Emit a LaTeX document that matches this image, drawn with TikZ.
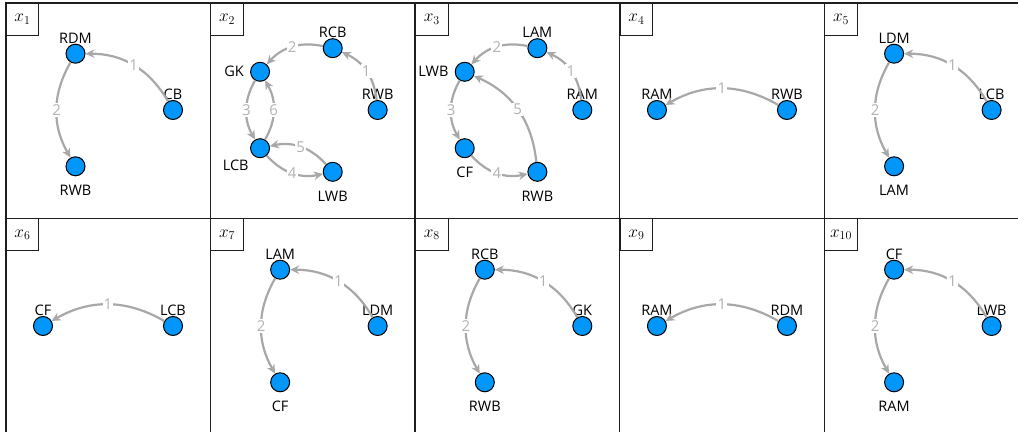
\documentclass[tikz,border=0pt]{standalone}
\usepackage{fontspec}
\newfontfamily\lblfont{Open Sans}
\usetikzlibrary{arrows.meta}
\definecolor{nodeblue}{RGB}{0,150,250}
\definecolor{edgegray}{RGB}{168,168,168}
\definecolor{numgray}{RGB}{178,178,178}
\definecolor{framecol}{RGB}{30,30,30}
\tikzset{
  player/.style={circle,draw=black,line width=1pt,fill=nodeblue,minimum size=19pt,inner sep=0pt,label distance=7.5pt},
  every label/.style={font=\lblfont\fontsize{14.5}{16}\selectfont,inner sep=0pt,text=black},
  lb/.style={label={[label distance=9pt]below:#1}},
  la/.style={label={above:#1}},
  ll/.style={label={[label distance=6pt]left:#1}},
  ed/.style={draw=edgegray,line width=2.2pt,-{Stealth[length=9pt,width=8.5pt]},bend right=30},
  el/.style={fill=white,text=numgray,inner sep=1.2pt,font=\lblfont\fontsize{15}{16}\selectfont},
  frameline/.style={draw=framecol,line width=1.6pt},
  paneltag/.style={draw=framecol,line width=1pt,anchor=north west,minimum width=32.5pt,minimum height=32pt,inner sep=0pt,font=\fontsize{16.5}{18}\selectfont}
}
\begin{document}
\begin{tikzpicture}[x=1pt,y=1pt]
\useasboundingbox (0,0) rectangle (1018,432);
\fill[white] (0,0) rectangle (1018,432);
% frame
\draw[frameline] (5.7,0) -- (5.7,429) -- (1018,429);
\foreach \xx in {210.35,415,619.65,824.3} \draw[frameline] (\xx,0) -- (\xx,429);
\draw[frameline] (5.7,213.7) -- (1018,213.7);
% tags
\node[paneltag] (t1) at (5.7,429) {$x_1$};
\node[paneltag] (t2) at (210.35,429) {$x_2$};
\node[paneltag] (t3) at (415,429) {$x_3$};
\node[paneltag] (t4) at (619.65,429) {$x_4$};
\node[paneltag] (t5) at (824.3,429) {$x_5$};
\node[paneltag] (t6) at (5.7,213.7) {$x_6$};
\node[paneltag] (t7) at (210.35,213.7) {$x_7$};
\node[paneltag] (t8) at (415,213.7) {$x_8$};
\node[paneltag] (t9) at (619.65,213.7) {$x_9$};
\node[paneltag] (t10) at (824.3,213.7) {$x_{10}$};
% panel 1
\begin{scope}[shift={(108,322)}]
 \node[player,la=CB] (p1cb) at (0:65) {};
 \node[player,la=RDM] (p1rdm) at (120:65) {};
 \node[player,lb=RWB] (p1rwb) at (240:65) {};
 \draw[ed] (p1cb) to node[el]{1} (p1rdm);
 \draw[ed] (p1rdm) to node[el]{2} (p1rwb);
\end{scope}
% panel 2
\begin{scope}[shift={(312.65,322)}]
 \node[player,la=RWB] (p2rwb) at (0:65) {};
 \node[player,la=RCB] (p2rcb) at (72:65) {};
 \node[player,ll=GK] (p2gk) at (144:65) {};
 \node[player,label={[label distance=6pt]below left:LCB}] (p2lcb) at (216:65) {};
 \node[player,lb=LWB] (p2lwb) at (288:65) {};
 \draw[ed] (p2rwb) to node[el]{1} (p2rcb);
 \draw[ed] (p2rcb) to node[el]{2} (p2gk);
 \draw[ed] (p2gk) to node[el]{3} (p2lcb);
 \draw[ed] (p2lcb) to node[el]{4} (p2lwb);
 \draw[ed] (p2lwb) to node[el]{5} (p2lcb);
 \draw[ed] (p2lcb) to node[el]{6} (p2gk);
\end{scope}
% panel 3
\begin{scope}[shift={(517.3,322)}]
 \node[player,la=RAM] (p3ram) at (0:65) {};
 \node[player,la=LAM] (p3lam) at (72:65) {};
 \node[player,ll=LWB] (p3lwb) at (144:65) {};
 \node[player,lb=CF] (p3cf) at (216:65) {};
 \node[player,lb=RWB] (p3rwb) at (288:65) {};
 \draw[ed] (p3ram) to node[el]{1} (p3lam);
 \draw[ed] (p3lam) to node[el]{2} (p3lwb);
 \draw[ed] (p3lwb) to node[el]{3} (p3cf);
 \draw[ed] (p3cf) to node[el]{4} (p3rwb);
 \draw[ed] (p3rwb) to node[el]{5} (p3lwb);
\end{scope}
% panel 4
\begin{scope}[shift={(721.95,322)}]
 \node[player,la=RWB] (p4rwb) at (0:65) {};
 \node[player,la=RAM] (p4ram) at (180:65) {};
 \draw[ed] (p4rwb) to node[el]{1} (p4ram);
\end{scope}
% panel 5
\begin{scope}[shift={(926.6,322)}]
 \node[player,la=LCB] (p5lcb) at (0:65) {};
 \node[player,la=LDM] (p5ldm) at (120:65) {};
 \node[player,lb=LAM] (p5lam) at (240:65) {};
 \draw[ed] (p5lcb) to node[el]{1} (p5ldm);
 \draw[ed] (p5ldm) to node[el]{2} (p5lam);
\end{scope}
% panel 6
\begin{scope}[shift={(108,106)}]
 \node[player,la=LCB] (p6lcb) at (0:65) {};
 \node[player,la=CF] (p6cf) at (180:65) {};
 \draw[ed] (p6lcb) to node[el]{1} (p6cf);
\end{scope}
% panel 7
\begin{scope}[shift={(312.65,106)}]
 \node[player,la=LDM] (p7ldm) at (0:65) {};
 \node[player,la=LAM] (p7lam) at (120:65) {};
 \node[player,lb=CF] (p7cf) at (240:65) {};
 \draw[ed] (p7ldm) to node[el]{1} (p7lam);
 \draw[ed] (p7lam) to node[el]{2} (p7cf);
\end{scope}
% panel 8
\begin{scope}[shift={(517.3,106)}]
 \node[player,la=GK] (p8gk) at (0:65) {};
 \node[player,la=RCB] (p8rcb) at (120:65) {};
 \node[player,lb=RWB] (p8rwb) at (240:65) {};
 \draw[ed] (p8gk) to node[el]{1} (p8rcb);
 \draw[ed] (p8rcb) to node[el]{2} (p8rwb);
\end{scope}
% panel 9
\begin{scope}[shift={(721.95,106)}]
 \node[player,la=RDM] (p9rdm) at (0:65) {};
 \node[player,la=RAM] (p9ram) at (180:65) {};
 \draw[ed] (p9rdm) to node[el]{1} (p9ram);
\end{scope}
% panel 10
\begin{scope}[shift={(926.6,106)}]
 \node[player,la=LWB] (p10lwb) at (0:65) {};
 \node[player,la=CF] (p10cf) at (120:65) {};
 \node[player,lb=RAM] (p10ram) at (240:65) {};
 \draw[ed] (p10lwb) to node[el]{1} (p10cf);
 \draw[ed] (p10cf) to node[el]{2} (p10ram);
\end{scope}
\end{tikzpicture}
\end{document}
